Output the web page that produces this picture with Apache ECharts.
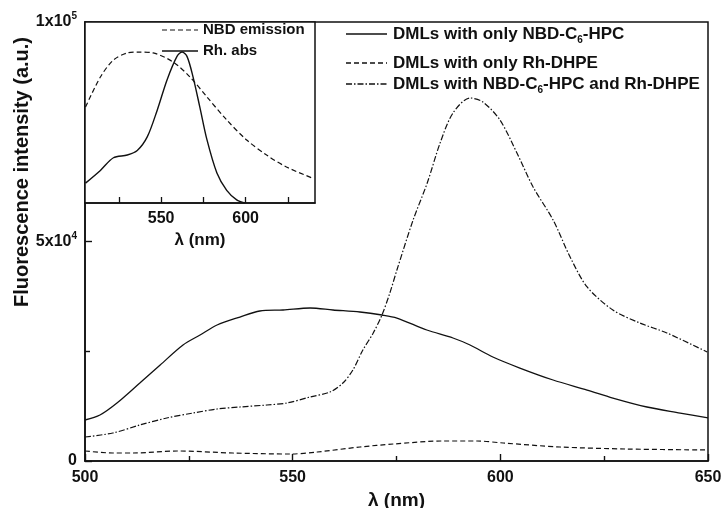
<!DOCTYPE html>
<html>
<head>
<meta charset="utf-8">
<script src="https://cdn.jsdelivr.net/npm/echarts@6/dist/echarts.min.js"></script>
<style>html,body{margin:0;padding:0;background:#fff}#c{width:721px;height:508px}</style>
</head>
<body>
<div id="c"></div>
<script>
// ---- Main plot data ----
var nbdOnlyX = [500, 503.6, 507.7, 513.2, 518.1, 523.6, 527.7, 531.8, 537.3, 542.1, 547.7, 554.2, 559.7, 566.2, 571.5, 575.1, 582.3, 588.6, 592.7, 598.2, 604.7, 612.7, 620.9, 627.1, 635.3, 643.3, 650];
var nbdOnlyY = [9340, 10480, 13210, 17770, 21870, 26420, 28700, 30980, 32800, 34170, 34400, 34850, 34400, 33940, 33260, 32570, 29840, 28020, 26420, 23690, 21180, 18450, 16170, 14350, 12300, 10930, 9800];

var rhOnlyX = [500, 506.7, 511.6, 522.2, 535.6, 549.4, 555.9, 566.2, 574.2, 586.2, 594.4, 600.7, 614.4, 630.5, 650];
var rhOnlyY = [2280, 1820, 1820, 2280, 1820, 1590, 2050, 3190, 3870, 4560, 4560, 4100, 3190, 2730, 2510];

var bothX = [500, 506.7, 513.2, 519.7, 526.0, 531.8, 537.3, 543.8, 548.6, 554.2, 559.0, 562.1, 564.5, 566.9, 569.4, 571.5, 573.4, 575.1, 579.0, 582.4, 585.5, 588.6, 592.7, 595.8, 599.9, 604.0, 607.9, 612.7, 616.8, 620.9, 627.1, 633.6, 640.1, 649.8];
var bothY = [5470, 6380, 8200, 9800, 10930, 11850, 12300, 12760, 13210, 14580, 15720, 17770, 20730, 25280, 29160, 33260, 38270, 43510, 54900, 63330, 72440, 79270, 82690, 81780, 77680, 70160, 62410, 54900, 46470, 39640, 34400, 31430, 29160, 24830];

// ---- Inset data (normalised) ----
var nbdEmX = [505.3, 514.1, 521.8, 530.0, 536.5, 545.3, 557.1, 567.1, 577.1, 588.8, 600.6, 612.4, 624.1, 639.4];
var nbdEmY = [0.530, 0.696, 0.790, 0.829, 0.834, 0.829, 0.779, 0.696, 0.586, 0.459, 0.348, 0.265, 0.199, 0.138];
var rhAbsX = [505.3, 514.1, 521.8, 530.0, 535.9, 541.8, 547.6, 553.5, 559.4, 562.4, 565.3, 568.8, 572.9, 577.1, 583.0, 588.8, 594.7, 599.4];
var rhAbsY = [0.11, 0.18, 0.25, 0.265, 0.29, 0.365, 0.51, 0.68, 0.81, 0.834, 0.81, 0.70, 0.53, 0.35, 0.166, 0.07, 0.017, 0.0];

// ---- Ticks / labels ----
var yTicks = [0, 50000, 100000];
var yTickBase = ['0', '5x10', '1x10'];
var yTickExp = ['', '4', '5'];
var insetTicks = [525, 550, 575, 600, 625];
var insetLabels = [550, 600];

var seriesNames = ['DMLs with only NBD-C6-HPC', 'DMLs with only Rh-DHPE', 'DMLs with NBD-C6-HPC and Rh-DHPE'];
var insetNames = ['NBD emission', 'Rh. abs'];

function zip(xs, ys) { return xs.map(function (x, i) { return [x, ys[i]]; }); }

var FONT = '"Liberation Sans", Arial, sans-serif';
var INK = '#111';
var DASH = [5, 3];
var DASHDOT = [6, 2, 1.5, 2];

var chart = echarts.init(document.getElementById('c'), null, {renderer: 'canvas'});

var supRich = {
  b: {fontFamily: FONT, fontWeight: 'bold', fontSize: 16, color: INK, lineHeight: 18},
  s: {fontFamily: FONT, fontWeight: 'bold', fontSize: 10, color: INK, lineHeight: 10, padding: [0, 0, 11, 0]}
};
var subRich = {
  a: {fontFamily: FONT, fontWeight: 'bold', fontSize: 17, color: INK, lineHeight: 20},
  s: {fontFamily: FONT, fontWeight: 'bold', fontSize: 10, color: INK, lineHeight: 20, padding: [13, 0, 0, 0]}
};

function legendEntry(x1, x2, y, dash, richText) {
  return [
    {type: 'line', shape: {x1: x1, y1: y, x2: x2, y2: y}, style: {stroke: INK, lineWidth: 1.3, lineDash: dash}},
    {type: 'text', x: x2 + 6, y: y, style: {text: richText, rich: subRich, verticalAlign: 'middle', align: 'left', fontFamily: FONT, fontWeight: 'bold', fontSize: 17, fill: INK}}
  ];
}
function subName(name) {
  var parts = name.split('C6');
  return parts.map(function (p) { return '{a|' + p + '}'; }).join('{a|C}{s|6}');
}

var graphics = [];
graphics.push({type: 'text', x: 22, y: 172, rotation: Math.PI / 2,
  style: {text: 'Fluorescence intensity (a.u.)', align: 'center', verticalAlign: 'middle', fontFamily: FONT, fontWeight: 'bold', fontSize: 20, fill: INK}});
graphics = graphics.concat(legendEntry(346, 387, 34, null, subName(seriesNames[0])));
graphics = graphics.concat(legendEntry(346, 387, 63, DASH, subName(seriesNames[1])));
graphics = graphics.concat(legendEntry(346, 387, 84, DASHDOT, subName(seriesNames[2])));
graphics.push({type: 'line', z: 10, shape: {x1: 162, y1: 30, x2: 198, y2: 30}, style: {stroke: INK, lineWidth: 1.2, lineDash: DASH}});
graphics.push({type: 'text', z: 10, x: 203, y: 30, style: {text: insetNames[0], verticalAlign: 'middle', fontFamily: FONT, fontWeight: 'bold', fontSize: 15, fill: INK}});
graphics.push({type: 'line', z: 10, shape: {x1: 162, y1: 51, x2: 198, y2: 51}, style: {stroke: INK, lineWidth: 1.5}});
graphics.push({type: 'text', z: 10, x: 203, y: 51, style: {text: insetNames[1], verticalAlign: 'middle', fontFamily: FONT, fontWeight: 'bold', fontSize: 15, fill: INK}});

var option = {
  animation: false,
  backgroundColor: '#fff',
  grid: [
    {left: 85, top: 22, width: 623, height: 439, show: true, borderColor: INK, borderWidth: 1.5, backgroundColor: 'transparent', containLabel: false, outerBoundsMode: 'none'},
    {left: 85, top: 22, width: 230, height: 181, show: true, borderColor: INK, borderWidth: 1.5, backgroundColor: '#fff', z: 3, containLabel: false, outerBoundsMode: 'none'}
  ],
  xAxis: [
    {type: 'value', gridIndex: 0, min: 500, max: 650, interval: 50,
      axisLine: {show: true, onZero: false, lineStyle: {color: INK, width: 1.6}},
      axisTick: {show: true, inside: true, length: 7, lineStyle: {color: INK, width: 1.4}},
      minorTick: {show: true, splitNumber: 2, length: 5, lineStyle: {color: INK, width: 1.4}},
      splitLine: {show: false},
      axisLabel: {margin: 9, fontFamily: FONT, fontWeight: 'bold', fontSize: 16, color: INK},
      name: 'λ (nm)', nameLocation: 'middle', nameGap: 25,
      nameTextStyle: {fontFamily: FONT, fontWeight: 'bold', fontSize: 19, color: INK}},
    {type: 'value', gridIndex: 1, min: 505, max: 641, z: 4,
      axisLine: {show: true, onZero: false, lineStyle: {color: INK, width: 1.5}},
      axisTick: {show: true, inside: true, length: 6, customValues: insetTicks, lineStyle: {color: INK, width: 1.3}},
      splitLine: {show: false},
      axisLabel: {margin: 8, customValues: insetLabels, fontFamily: FONT, fontWeight: 'bold', fontSize: 16, color: INK},
      name: 'λ (nm)', nameLocation: 'middle', nameGap: 29,
      nameTextStyle: {fontFamily: FONT, fontWeight: 'bold', fontSize: 17, color: INK}}
  ],
  yAxis: [
    {type: 'value', gridIndex: 0, min: 0, max: 100000, interval: 50000,
      axisLine: {show: true, onZero: false, lineStyle: {color: INK, width: 1.6}},
      axisTick: {show: true, inside: true, length: 7, lineStyle: {color: INK, width: 1.4}},
      minorTick: {show: true, splitNumber: 2, length: 5, lineStyle: {color: INK, width: 1.4}},
      splitLine: {show: false},
      axisLabel: {margin: 8, rich: supRich,
        formatter: function (v) {
          var i = yTicks.indexOf(v);
          if (i < 0) return '';
          return '{b|' + yTickBase[i] + '}' + (yTickExp[i] ? '{s|' + yTickExp[i] + '}' : '');
        }}},
    {type: 'value', gridIndex: 1, min: 0, max: 1, show: false}
  ],
  graphic: graphics,
  series: [
    {name: seriesNames[0], type: 'line', xAxisIndex: 0, yAxisIndex: 0, data: zip(nbdOnlyX, nbdOnlyY), symbol: 'none', smooth: 0.3,
      lineStyle: {color: INK, width: 1.3}},
    {name: seriesNames[1], type: 'line', xAxisIndex: 0, yAxisIndex: 0, data: zip(rhOnlyX, rhOnlyY), symbol: 'none', smooth: 0.3,
      lineStyle: {color: INK, width: 1.2, type: DASH}},
    {name: seriesNames[2], type: 'line', xAxisIndex: 0, yAxisIndex: 0, data: zip(bothX, bothY), symbol: 'none', smooth: 0.3,
      lineStyle: {color: INK, width: 1.2, type: DASHDOT}},
    {name: insetNames[0], type: 'line', xAxisIndex: 1, yAxisIndex: 1, data: zip(nbdEmX, nbdEmY), symbol: 'none', smooth: 0.3, z: 5,
      lineStyle: {color: INK, width: 1.2, type: DASH}},
    {name: insetNames[1], type: 'line', xAxisIndex: 1, yAxisIndex: 1, data: zip(rhAbsX, rhAbsY), symbol: 'none', smooth: 0.3, z: 5,
      lineStyle: {color: INK, width: 1.4}}
  ]
};
chart.setOption(option);
</script>
</body>
</html>
